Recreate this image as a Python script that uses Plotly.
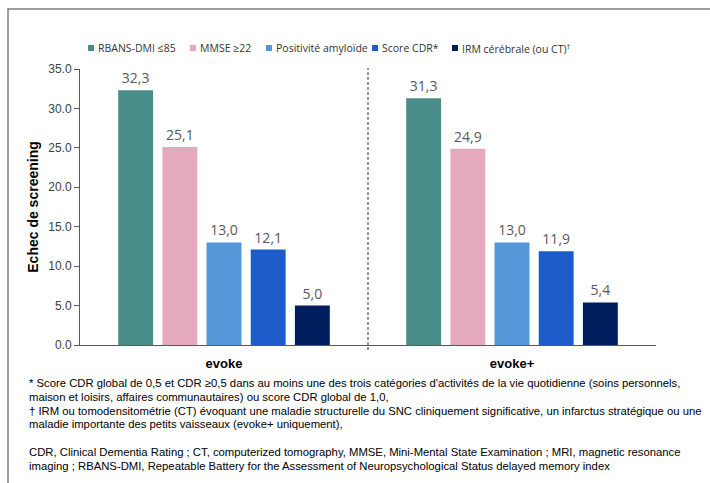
import plotly.graph_objects as go

# ---------------- data ----------------
categories = ["evoke", "evoke+"]
series_names = ["RBANS-DMI ≤85", "MMSE ≥22", "Positivité amyloïde", "Score CDR*",
                "IRM cérébrale (ou CT)<sup>†</sup>"]
rbans_dmi = [32.3, 31.3]
mmse = [25.1, 24.9]
amyloid = [13.0, 13.0]
score_cdr = [12.1, 11.9]
irm = [5.0, 5.4]
y_tick_values = [0, 5, 10, 15, 20, 25, 30, 35]
y_title = "Echec de screening"

footnotes = [
    "* Score CDR global de 0,5 et CDR ≥0,5 dans au moins une des trois catégories d'activités de la vie quotidienne (soins personnels,",
    "maison et loisirs, affaires communautaires) ou score CDR global de 1,0,",
    "† IRM ou tomodensitométrie (CT) évoquant une maladie structurelle du SNC cliniquement significative, un infarctus stratégique ou une",
    "maladie importante des petits vaisseaux (evoke+ uniquement),",
    "CDR, Clinical Dementia Rating ; CT, computerized tomography, MMSE, Mini-Mental State Examination ; MRI, magnetic resonance",
    "imaging ; RBANS-DMI, Repeatable Battery for the Assessment of Neuropsychological Status delayed memory index",
]

# ---------------- styles ----------------
colors = ["#4A8C87", "#E4A9BD", "#5497D9", "#1C5DCB", "#001D5E"]
W, H = 710, 483
ML, MR, MT, MB = 80, 54, 69, 138
PW, PH = W - ML - MR, H - MT - MB


def px_x(p):
    return (p - ML) / PW


def px_y(p):
    return (H - MB - p) / PH


def fmt(v):
    return f"{v:.1f}".replace(".", ",")


all_series = [rbans_dmi, mmse, amyloid, score_cdr, irm]

fig = go.Figure()
for name, vals, col in zip(series_names, all_series, colors):
    fig.add_trace(go.Bar(
        x=categories, y=vals, name=name,
        marker=dict(color=col, line=dict(width=0)),
        text=[fmt(v) for v in vals], textposition="outside",
        textfont=dict(family="Open Sans", size=14, color="#595959"),
        cliponaxis=False, showlegend=False,
    ))

shapes = []
annotations = []

# dashed separator between groups
shapes.append(dict(type="line", xref="x", yref="paper", x0=0.5, x1=0.5,
                   y0=px_y(350), y1=px_y(68),
                   line=dict(color="#333333", width=1, dash="3px,2px")))

# outer frame (top and left)
shapes.append(dict(type="path", xref="paper", yref="paper",
                   path=f"M {px_x(8)} {px_y(490)} L {px_x(8)} {px_y(9)} L {px_x(715)} {px_y(9)}",
                   line=dict(color="#7F7F7F", width=1.5)))

# manual legend
legend_x = [88, 190, 266, 372, 452]
for name, col, lx in zip(series_names, colors, legend_x):
    shapes.append(dict(type="rect", xref="paper", yref="paper",
                       x0=px_x(lx), x1=px_x(lx + 6), y0=px_y(51), y1=px_y(45),
                       line=dict(width=0), fillcolor=col))
    annotations.append(dict(xref="paper", yref="paper", x=px_x(lx + 8), y=px_y(48),
                            xanchor="left", yanchor="middle", showarrow=False,
                            text=name, font=dict(family="Open Sans", size=10.5, color="#333333")))

# footnotes
foot_y = [383.3, 397, 410.7, 424.3, 452, 465.7]
for txt, fy in zip(footnotes, foot_y):
    annotations.append(dict(xref="paper", yref="paper", x=px_x(27), y=px_y(fy),
                            xanchor="left", yanchor="middle", showarrow=False,
                            text=txt, font=dict(family="Liberation Sans, Arial", size=11.3, color="#000000")))

fig.update_layout(
    width=W, height=H,
    margin=dict(l=ML, r=MR, t=MT, b=MB, pad=0),
    paper_bgcolor="white", plot_bgcolor="white",
    barmode="group", bargap=0.233, bargroupgap=0.21,
    showlegend=False,
    shapes=shapes, annotations=annotations,
    xaxis=dict(type="category", range=[-0.5, 1.5], showline=True, linecolor="#595959", linewidth=1,
               ticks="", showgrid=False, zeroline=False,
               tickfont=dict(family="Liberation Sans, Arial", size=13, color="#000000", weight="bold"),
               ticklabelstandoff=6),
    yaxis=dict(range=[0, 35], tickvals=y_tick_values, tickformat=".1f",
               showline=True, linecolor="#595959", linewidth=1,
               ticks="outside", ticklen=5, tickcolor="#595959",
               showgrid=False, zeroline=False,
               tickfont=dict(family="Liberation Sans, Arial", size=12, color="#404040"),
               title=dict(text=y_title, standoff=6,
                          font=dict(family="Liberation Sans, Arial", size=14, color="#000000", weight="bold"))),
)

fig.write_html("out.html")
